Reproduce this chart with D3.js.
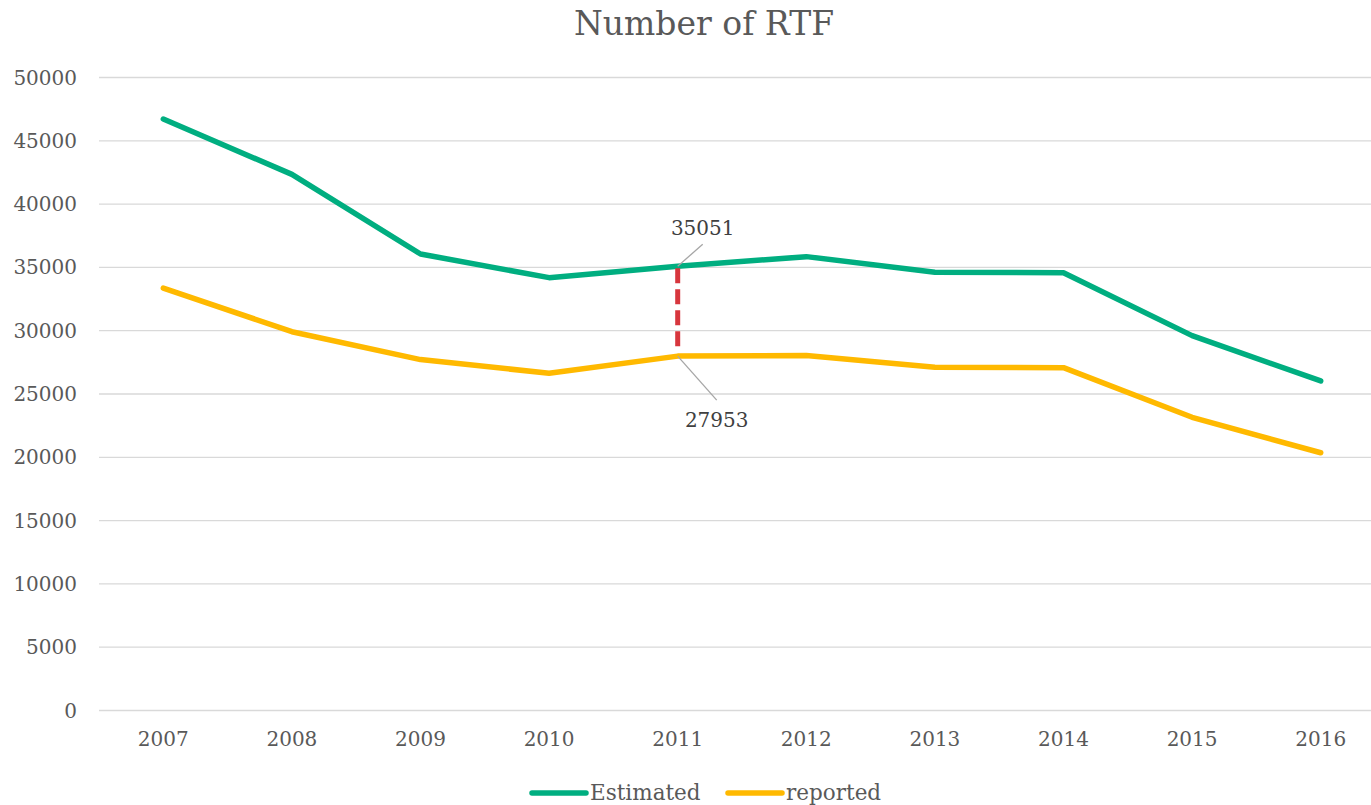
<!DOCTYPE html>
<html>
<head>
<meta charset="utf-8">
<script src="https://cdn.jsdelivr.net/npm/d3@7"></script>
<style>
	body { margin: 0; background: #fff; }
	svg { display: block; font-family: "DejaVu Serif", serif; }
</style>
</head>
<body>
<svg></svg>
<script>
// Data
var years = ["2007", "2008", "2009", "2010", "2011", "2012", "2013", "2014", "2015", "2016"];
var estimated = [46680, 42310, 36020, 34150, 35051, 35810, 34570, 34540, 29570, 25990];
var reported = [33330, 29880, 27680, 26600, 27953, 28010, 27070, 27040, 23120, 20320];
var seriesNames = ["Estimated", "reported"];
var yTicks = [0, 5000, 10000, 15000, 20000, 25000, 30000, 35000, 40000, 45000, 50000];
var highlightYear = "2011";

var WIDTH = 1371,
	HEIGHT = 805,
	PLOT = {left: 99, right: 1385, top: 77, bottom: 710};

var GREEN = "#00ae80",
	YELLOW = "#ffb900",
	TEXT = "#595959";

var svg = d3.select("svg")
	.attr("width", WIDTH)
	.attr("height", HEIGHT);

var x = d3.scaleBand()
	.domain(years)
	.range([PLOT.left, PLOT.right]);

var y = d3.scaleLinear()
	.domain([0, 50000])
	.range([PLOT.bottom, PLOT.top]);

function cx(d) { return x(d) + x.bandwidth() / 2; }

// Title
svg.append("text")
	.attr("x", 704)
	.attr("y", 35)
	.attr("text-anchor", "middle")
	.attr("font-size", 33)
	.attr("fill", TEXT)
	.text("Number of RTF");

// Gridlines + y labels
var yAxis = svg.append("g")
	.attr("transform", "translate(" + PLOT.left + ",0)")
	.call(d3.axisLeft(y).tickValues(yTicks).tickSize(-(PLOT.right - PLOT.left)).tickPadding(22).tickFormat(d3.format("d")));

yAxis.select(".domain").remove();
yAxis.selectAll(".tick line")
	.attr("stroke", "#d9d9d9")
	.attr("stroke-width", 1.3);
yAxis.selectAll(".tick text")
	.attr("font-size", 20)
	.attr("font-family", "DejaVu Serif, serif")
	.attr("fill", TEXT)
	.attr("dy", "0.35em");

// x labels
var xAxis = svg.append("g")
	.attr("transform", "translate(0," + PLOT.bottom + ")")
	.call(d3.axisBottom(x).tickSize(0).tickPadding(22));

xAxis.select(".domain").remove();
xAxis.selectAll(".tick text")
	.attr("font-size", 20)
	.attr("font-family", "DejaVu Serif, serif")
	.attr("fill", TEXT);

// Lines
var line = d3.line()
	.x(function(d, i) { return cx(years[i]); })
	.y(function(d) { return y(d); });

[[estimated, GREEN], [reported, YELLOW]].forEach(function(s) {
	svg.append("path")
		.datum(s[0])
		.attr("d", line)
		.attr("fill", "none")
		.attr("stroke", s[1])
		.attr("stroke-width", 5.5)
		.attr("stroke-linejoin", "round")
		.attr("stroke-linecap", "round");
});

// Gap between the two series in the highlighted year
var hi = years.indexOf(highlightYear),
	hx = cx(highlightYear);

svg.append("line")
	.attr("x1", hx)
	.attr("x2", hx)
	.attr("y1", y(estimated[hi]) + 2)
	.attr("y2", y(reported[hi]) - 6)
	.attr("stroke", "#d7363d")
	.attr("stroke-width", 5)
	.attr("stroke-dasharray", "15,6");

// Data labels with leader lines
var labels = [
	{v: estimated[hi], dx: 25, dy: -22, tx: 25, ty: -31},
	{v: reported[hi], dx: 39, dy: 44, tx: 39, ty: 71}
];

labels.forEach(function(l) {
	var py = y(l.v);
	svg.append("line")
		.attr("x1", hx)
		.attr("y1", py)
		.attr("x2", hx + l.dx)
		.attr("y2", py + l.dy)
		.attr("stroke", "#a6a6a6")
		.attr("stroke-width", 1.3);
	svg.append("text")
		.attr("x", hx + l.tx)
		.attr("y", py + l.ty)
		.attr("text-anchor", "middle")
		.attr("font-size", 20)
		.attr("fill", "#404040")
		.text(l.v);
});

// Legend
var legend = svg.append("g")
	.attr("transform", "translate(0,793)");

var legendX = [532, 728];
seriesNames.forEach(function(name, i) {
	var g = legend.append("g").attr("transform", "translate(" + legendX[i] + ",0)");
	g.append("line")
		.attr("x1", 0)
		.attr("x2", 54)
		.attr("stroke", i === 0 ? GREEN : YELLOW)
		.attr("stroke-width", 5.5)
		.attr("stroke-linecap", "round");
	g.append("text")
		.attr("x", 58)
		.attr("y", 7)
		.attr("font-size", 21.5)
		.attr("fill", TEXT)
		.text(name);
});
</script>
</body>
</html>
